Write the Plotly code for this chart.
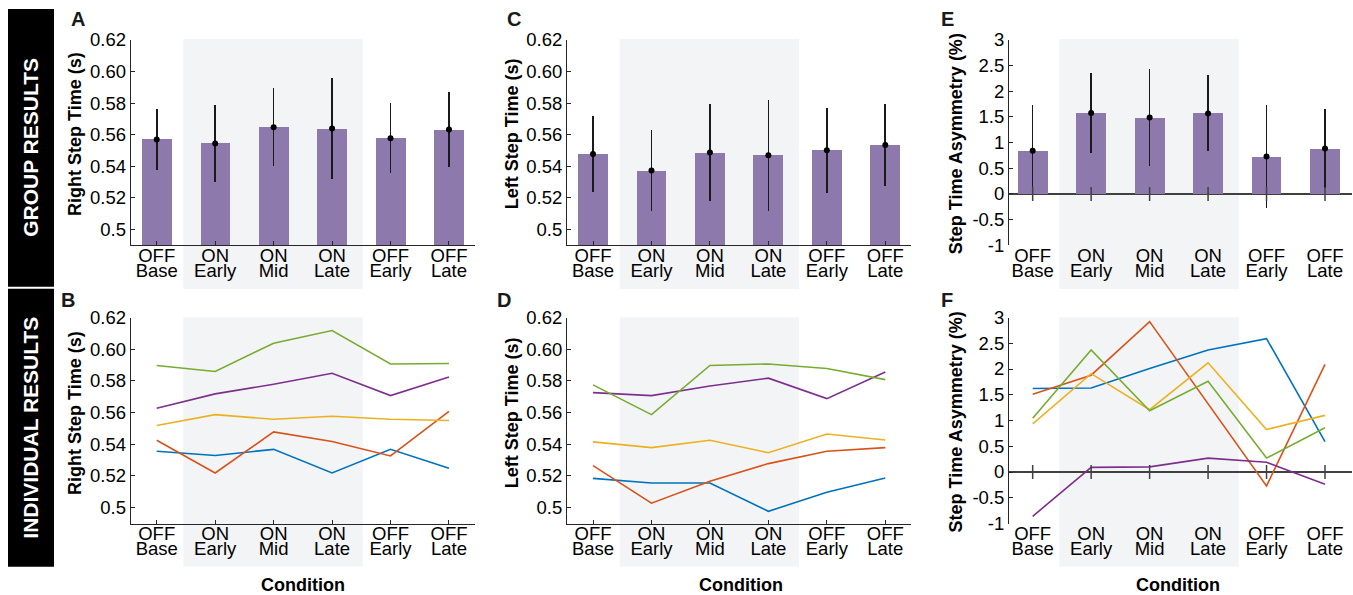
import plotly.graph_objects as go

W, H = 1353, 595

# ---------------- data ----------------
cond_line1 = ["OFF", "ON", "ON", "ON", "OFF", "OFF"]
cond_line2 = ["Base", "Early", "Mid", "Late", "Early", "Late"]

right_mean = [0.557, 0.5545, 0.5648, 0.5639, 0.5578, 0.5633]
right_err = [0.0195, 0.0243, 0.0245, 0.0320, 0.0220, 0.0236]
left_mean = [0.5478, 0.5373, 0.5487, 0.5470, 0.5502, 0.5535]
left_err = [0.0238, 0.0255, 0.0305, 0.0350, 0.0268, 0.0260]
asym_mean = [0.84, 1.58, 1.49, 1.57, 0.73, 0.885]
asym_err = [0.90, 0.78, 0.95, 0.74, 1.00, 0.77]

right_blue = [0.5356, 0.5329, 0.5368, 0.5219, 0.5368, 0.5248]
right_orange = [0.5425, 0.5219, 0.5478, 0.5417, 0.5326, 0.5608]
right_yellow = [0.5518, 0.5587, 0.5558, 0.5577, 0.5558, 0.5550]
right_purple = [0.5627, 0.5718, 0.5779, 0.5848, 0.5707, 0.5825]
right_green = [0.5897, 0.5859, 0.6038, 0.6118, 0.5907, 0.5910]

left_blue = [0.5185, 0.5156, 0.5156, 0.4977, 0.5097, 0.5187]
left_orange = [0.5265, 0.5028, 0.5166, 0.5278, 0.5356, 0.5379]
left_yellow = [0.5415, 0.5379, 0.5425, 0.5347, 0.5465, 0.5427]
left_purple = [0.5726, 0.5707, 0.5768, 0.5817, 0.5688, 0.5856]
left_green = [0.5775, 0.5587, 0.5897, 0.5907, 0.5878, 0.5808]

asym_blue = [1.62, 1.63, 2.01, 2.37, 2.59, 0.59]
asym_orange = [1.51, 1.88, 2.92, 1.32, -0.27, 2.09]
asym_yellow = [0.935, 1.91, 1.21, 2.12, 0.825, 1.10]
asym_purple = [-0.86, 0.09, 0.10, 0.27, 0.19, -0.24]
asym_green = [1.045, 2.37, 1.19, 1.76, 0.27, 0.86]

step_ticks = [0.5, 0.52, 0.54, 0.56, 0.58, 0.60, 0.62]
step_ticktext = ["0.5", "0.52", "0.54", "0.56", "0.58", "0.60", "0.62"]
asym_ticks = [-1, -0.5, 0, 0.5, 1, 1.5, 2, 2.5, 3]
asym_ticktext = ["-1", "-0.5", "0", "0.5", "1", "1.5", "2", "2.5", "3"]

# ---------------- style ----------------
FONT = "Liberation Sans, Arial, sans-serif"
BAR_COLOR = "#8E79AD"
SHADE = "#F3F4F6"
AX = "#262626"
LINE_COLORS = {"blue": "#0072BD", "orange": "#D95319", "yellow": "#EDB120",
               "purple": "#7E2F8E", "green": "#77AC30"}

idx = list(range(len(cond_line1)))

col_px = [(130.7, 475.0), (567.0, 911.3), (1009.0, 1351.6)]
row_px = [(40.0, 245.3), (317.5, 523.5)]
col_range = [(-0.445, 5.445), (-0.445, 5.445), (-0.405, 5.455)]


def px_x(p):
    return p / W


def px_y(p):
    return 1 - p / H


panels = [
    dict(letter="A", row=0, col=0, kind="bar", mean=right_mean, err=right_err,
         title="Right Step Time (s)", yr=(0.49, 0.62), tv=step_ticks, tt=step_ticktext),
    dict(letter="C", row=0, col=1, kind="bar", mean=left_mean, err=left_err,
         title="Left Step Time (s)", yr=(0.49, 0.62), tv=step_ticks, tt=step_ticktext),
    dict(letter="E", row=0, col=2, kind="bar", mean=asym_mean, err=asym_err,
         title="Step Time Asymmetry (%)", yr=(-1, 3), tv=asym_ticks, tt=asym_ticktext),
    dict(letter="B", row=1, col=0, kind="line",
         series=[("blue", right_blue), ("orange", right_orange), ("yellow", right_yellow),
                 ("purple", right_purple), ("green", right_green)],
         title="Right Step Time (s)", yr=(0.49, 0.62), tv=step_ticks, tt=step_ticktext),
    dict(letter="D", row=1, col=1, kind="line",
         series=[("blue", left_blue), ("orange", left_orange), ("yellow", left_yellow),
                 ("purple", left_purple), ("green", left_green)],
         title="Left Step Time (s)", yr=(0.49, 0.62), tv=step_ticks, tt=step_ticktext),
    dict(letter="F", row=1, col=2, kind="line",
         series=[("blue", asym_blue), ("orange", asym_orange), ("yellow", asym_yellow),
                 ("purple", asym_purple), ("green", asym_green)],
         title="Step Time Asymmetry (%)", yr=(-1, 3), tv=asym_ticks, tt=asym_ticktext),
]

letter_pos = {"A": (77.5, 19), "C": (514, 19), "E": (947, 19),
              "B": (67.5, 299.5), "D": (504, 299.5), "F": (947, 299.5)}
ytitle_pos = {"A": (75, 134), "C": (511.7, 133.5), "E": (955.7, 143.5),
              "B": (75, 413), "D": (511.7, 412.5), "F": (955.7, 421.7)}
cond_title_x = {"B": 302.5, "D": 740.8, "F": 1178.3}
shade_px_y = [(39, 289), (317.3, 566.7)]
shade_x = (0.455, 3.525)

fig = go.Figure()
layout = dict(width=W, height=H, margin=dict(l=0, r=0, t=0, b=0, autoexpand=False),
              paper_bgcolor="white", plot_bgcolor="rgba(0,0,0,0)",
              showlegend=False, font=dict(family=FONT, color="black", size=18),
              bargap=0)
shapes = []
annotations = []

S1 = -3
S2 = 12
TICKFONT = dict(size=18.5, family=FONT, color="black")

for i, p in enumerate(panels, start=1):
    sfx = "" if i == 1 else str(i)
    xr = col_range[p["col"]]
    cx = col_px[p["col"]]
    ry = row_px[p["row"]]
    is_asym = p["col"] == 2
    layout["xaxis" + sfx] = dict(
        domain=[px_x(cx[0]), px_x(cx[1])], range=list(xr), anchor="y" + sfx,
        tickmode="array", tickvals=idx, showticklabels=False,
        ticks="" if is_asym else "inside", ticklen=4, tickcolor=AX, tickwidth=1,
        showline=not is_asym, linecolor=AX, linewidth=1, mirror=False,
        showgrid=False, zeroline=False, automargin=False, fixedrange=True)
    # two label rows, each on its own overlaying axis
    for k, (labels, stand) in enumerate([(cond_line1, S1), (cond_line2, S2)]):
        ax_num = 6 + i + 6 * k
        layout["xaxis" + str(ax_num)] = dict(
            overlaying="x" + sfx, anchor="y" + sfx, range=list(xr), side="bottom",
            tickmode="array", tickvals=idx, ticktext=labels, ticks="",
            showline=False, showgrid=False, zeroline=False, tickfont=TICKFONT,
            ticklabelstandoff=stand, automargin=False, fixedrange=True)
        fig.add_trace(go.Scatter(x=idx, y=[None] * len(idx), xaxis="x" + str(ax_num),
                                 yaxis="y" + sfx, mode="markers", hoverinfo="skip",
                                 showlegend=False))
    layout["yaxis" + sfx] = dict(
        domain=[px_y(ry[1]), px_y(ry[0])], range=list(p["yr"]), anchor="x" + sfx,
        tickmode="array", tickvals=p["tv"], ticktext=p["tt"],
        ticks="inside", ticklen=4, tickcolor=AX, tickwidth=1,
        showline=True, linecolor=AX, linewidth=1, showgrid=False,
        zeroline=is_asym, zerolinecolor="#404040", zerolinewidth=2,
        tickfont=TICKFONT, automargin=False, fixedrange=True)

    # shaded ON period
    span = xr[1] - xr[0]
    hgt = ry[1] - ry[0]
    sy = shade_px_y[p["row"]]
    shapes.append(dict(type="rect", xref="x" + sfx + " domain", yref="y" + sfx + " domain",
                       x0=(shade_x[0] - xr[0]) / span, x1=(shade_x[1] - xr[0]) / span,
                       y0=(ry[1] - sy[1]) / hgt, y1=(ry[1] - sy[0]) / hgt,
                       fillcolor=SHADE, line=dict(width=0), layer="below"))

    if p["kind"] == "bar":
        fig.add_trace(go.Bar(x=idx, y=p["mean"], width=0.51, xaxis="x" + sfx, yaxis="y" + sfx,
                             marker=dict(color=BAR_COLOR, line=dict(width=0)),
                             error_y=dict(type="data", array=p["err"], color="#1a1a1a",
                                          thickness=1.6, width=0),
                             hoverinfo="skip"))
        fig.add_trace(go.Scatter(x=idx, y=p["mean"], mode="markers", xaxis="x" + sfx,
                                 yaxis="y" + sfx,
                                 marker=dict(color="black", size=6), hoverinfo="skip"))
    else:
        for cname, vals in p["series"]:
            fig.add_trace(go.Scatter(x=idx, y=vals, mode="lines", xaxis="x" + sfx,
                                     yaxis="y" + sfx,
                                     line=dict(color=LINE_COLORS[cname], width=1.6),
                                     hoverinfo="skip"))

    if is_asym:
        fig.add_trace(go.Scatter(x=idx, y=[0] * len(idx), mode="markers", xaxis="x" + sfx,
                                 yaxis="y" + sfx,
                                 marker=dict(symbol="line-ns", size=10,
                                             line=dict(color="#404040", width=1.5)),
                                 hoverinfo="skip"))

    lx, ly = letter_pos[p["letter"]]
    annotations.append(dict(text="<b>%s</b>" % p["letter"], x=px_x(lx), y=px_y(ly),
                            xref="paper", yref="paper", showarrow=False,
                            xanchor="center", yanchor="middle",
                            font=dict(size=20, family=FONT, color="#1a1a1a")))
    tx, ty = ytitle_pos[p["letter"]]
    annotations.append(dict(text="<b>%s</b>" % p["title"], x=px_x(tx), y=px_y(ty),
                            xref="paper", yref="paper", showarrow=False, textangle=-90,
                            xanchor="center", yanchor="middle",
                            font=dict(size=18, family=FONT, color="black")))
    if p["letter"] in cond_title_x:
        annotations.append(dict(text="<b>Condition</b>", x=px_x(cond_title_x[p["letter"]]),
                                y=px_y(585), xref="paper", yref="paper", showarrow=False,
                                xanchor="center", yanchor="middle",
                                font=dict(size=18, family=FONT, color="black")))

# side labels
side = [("GROUP RESULTS", 9, 286.7), ("INDIVIDUAL RESULTS", 288.7, 566.7)]
for txt, top, bot in side:
    shapes.append(dict(type="rect", xref="paper", yref="paper",
                       x0=px_x(8), x1=px_x(54), y0=px_y(bot), y1=px_y(top),
                       fillcolor="black", line=dict(width=0), layer="above"))
    annotations.append(dict(text="<b>%s</b>" % txt, x=px_x(31), y=px_y((top + bot) / 2),
                            xref="paper", yref="paper", showarrow=False, textangle=-90,
                            xanchor="center", yanchor="middle",
                            font=dict(size=21, family=FONT, color="white")))

layout["shapes"] = shapes
layout["annotations"] = annotations
fig.update_layout(**layout)
fig.write_html("out.html", config={"displayModeBar": False},
               post_script="document.body.style.margin='0';document.body.style.padding='0';")
